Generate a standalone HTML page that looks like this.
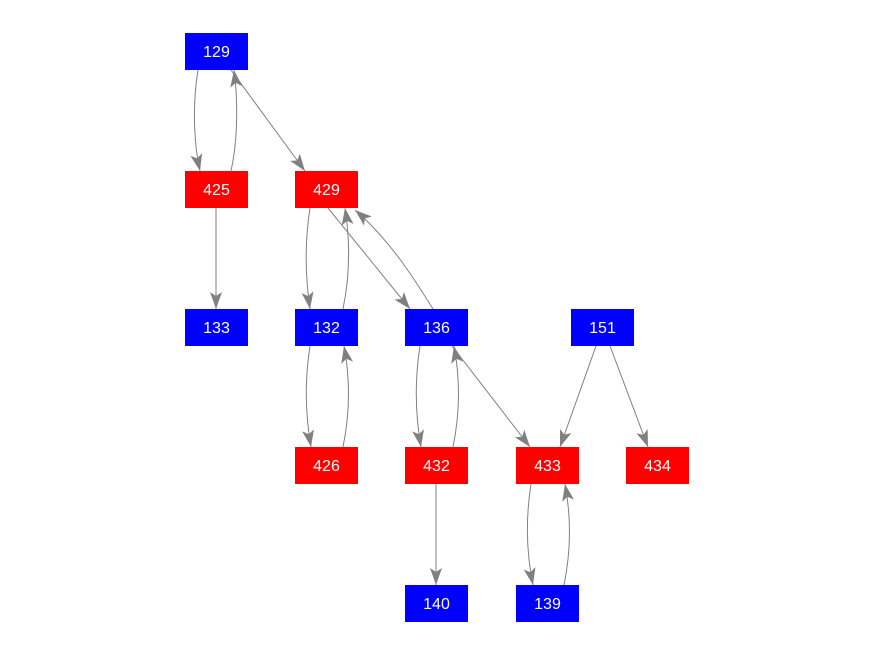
<!DOCTYPE html>
<html><head><style>
html,body{margin:0;padding:0;background:#fff;}
svg{display:block}
text{font-family:"Liberation Sans",Arial,sans-serif;font-size:16px;fill:#fff;text-anchor:middle}
</style></head><body>
<svg width="876" height="656" viewBox="0 0 876 656" xmlns="http://www.w3.org/2000/svg">
<defs>
<marker id="a" markerUnits="userSpaceOnUse" markerWidth="18" markerHeight="14" refX="17" refY="6" orient="auto">
<path d="M0,0 L17,6 L0,12 L4,6 Z" fill="#808080"/>
</marker>
</defs>
<g fill="none" stroke="#808080" stroke-width="1" marker-end="url(#a)">
<path d="M198,70 C193,100 193,140 200,171"/>
<path d="M231,171 C238,140 238,100 234,70"/>
<path d="M231,70 L305,171"/>
<path d="M216,208 L216,309"/>
<path d="M310,208 C305,240 305,275 310,309"/>
<path d="M343,309 C350,275 350,240 345,208"/>
<path d="M328,208 L410,309"/>
<path d="M433,309 C415,280 390,240 355,210"/>
<path d="M310,346 C305,378 305,413 311,447"/>
<path d="M343,447 C350,413 350,378 344,346"/>
<path d="M420,346 C415,378 415,413 421,447"/>
<path d="M453,447 C460,413 460,378 454,346"/>
<path d="M452,346 L530,447"/>
<path d="M596,346 L560,447"/>
<path d="M610,346 L648,447"/>
<path d="M436,484 L436,585"/>
<path d="M531,484 C526,516 526,551 533,585"/>
<path d="M564,585 C571,551 571,516 565,484"/>
</g>
<g>
<rect x="185" y="33" width="63" height="37" fill="#0000ff"/><text x="216.5" y="57">129</text>
<rect x="185" y="171" width="63" height="37" fill="#ff0000"/><text x="216.5" y="195">425</text>
<rect x="295" y="171" width="63" height="37" fill="#ff0000"/><text x="326.5" y="195">429</text>
<rect x="185" y="309" width="63" height="37" fill="#0000ff"/><text x="216.5" y="333">133</text>
<rect x="295" y="309" width="63" height="37" fill="#0000ff"/><text x="326.5" y="333">132</text>
<rect x="405" y="309" width="63" height="37" fill="#0000ff"/><text x="436.5" y="333">136</text>
<rect x="571" y="309" width="63" height="37" fill="#0000ff"/><text x="602.5" y="333">151</text>
<rect x="295" y="447" width="63" height="37" fill="#ff0000"/><text x="326.5" y="471">426</text>
<rect x="405" y="447" width="63" height="37" fill="#ff0000"/><text x="436.5" y="471">432</text>
<rect x="516" y="447" width="63" height="37" fill="#ff0000"/><text x="547.5" y="471">433</text>
<rect x="626" y="447" width="63" height="37" fill="#ff0000"/><text x="657.5" y="471">434</text>
<rect x="405" y="585" width="63" height="37" fill="#0000ff"/><text x="436.5" y="609">140</text>
<rect x="516" y="585" width="63" height="37" fill="#0000ff"/><text x="547.5" y="609">139</text>
</g>
</svg>
</body></html>
